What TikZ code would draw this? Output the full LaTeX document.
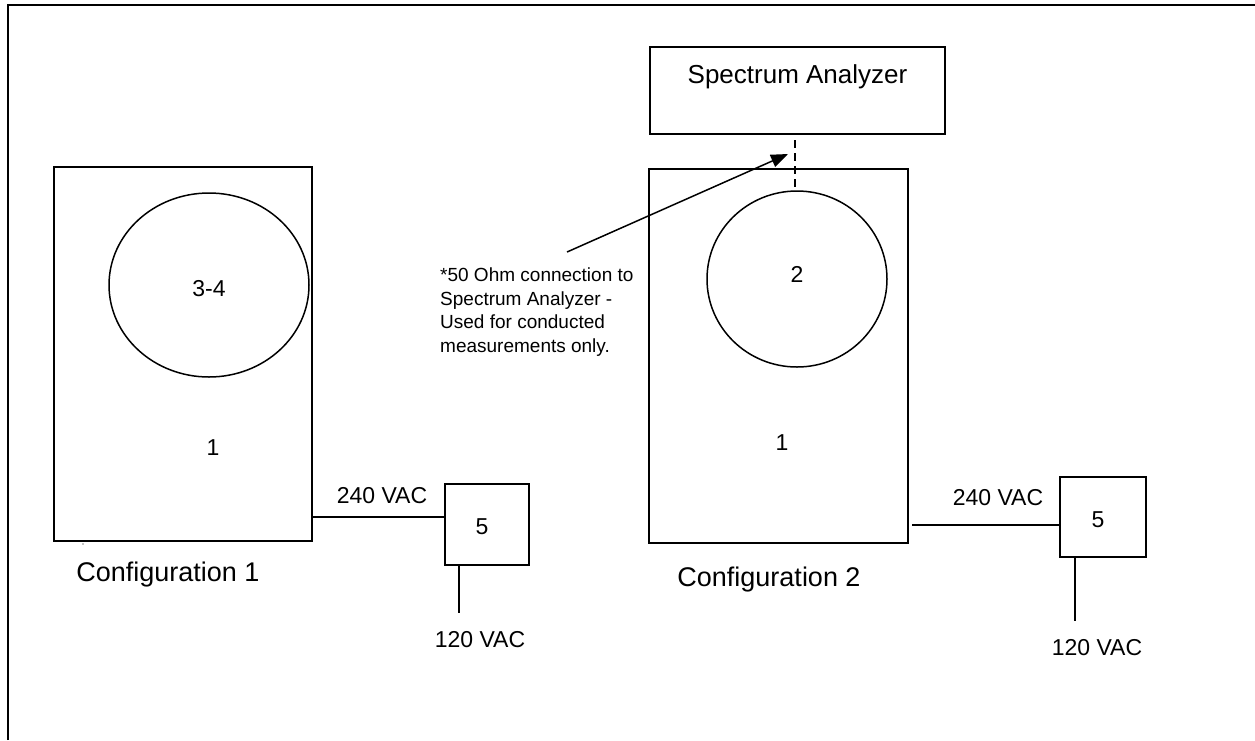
\documentclass[tikz,border=0pt]{standalone}
\usepackage{fontspec}
\setmainfont{Liberation Sans}
\usetikzlibrary{arrows.meta,shapes.geometric}
\tikzset{
  unitbox/.style={draw, line width=1.8pt, inner sep=0pt, rectangle},
  disc/.style={draw, line width=1.5pt, ellipse, inner sep=0pt},
  wire/.style={line width=1.5pt},
  lbl/.style={inner sep=0pt, anchor=base, font=\fontsize{23}{27}\selectfont},
  biglbl/.style={inner sep=0pt, anchor=base, font=\fontsize{27}{32}\selectfont},
  notelbl/.style={inner sep=0pt, anchor=north west, align=left, font=\fontsize{19}{23.5}\selectfont},
}
\begin{document}
\begin{tikzpicture}[x=1pt,y=-1pt]
\useasboundingbox (0,0) rectangle (1255,740);
% frame
\draw[line width=2.2pt] (8,740) -- (8,5) -- (1255,5);

% ---------- Configuration 1 ----------
\node[unitbox, minimum width=258pt, minimum height=374pt] (unitA) at (183,354) {};
\node[disc, minimum width=200pt, minimum height=184pt] (discA) at (209,285) {};
\node[lbl] (discAlbl) at (209,296) {3-4};
\node[lbl] (unitAlbl) at (213,455) {1};
\node[unitbox, minimum width=84pt, minimum height=81pt] (psuA) at (487,524.5) {};
\node[lbl] (psuAlbl) at (482,534) {5};
\coordinate (tapA) at (312,517);
\draw[wire] (tapA) -- (tapA -| psuA.west);
\node[lbl] (vA240) at (382,503) {240 VAC};
\coordinate (mainsA) at (459,613);
\draw[wire] (mainsA |- psuA.south) -- (mainsA);
\node[lbl] (vA120) at (480,647) {120 VAC};
\node[biglbl] (cfgA) at (168,581) {Configuration 1};
\fill (83,544) circle (0.7pt);

% ---------- Configuration 2 ----------
\node[unitbox, minimum width=295pt, minimum height=87pt] (specAn) at (797.5,90.5) {};
\node[inner sep=0pt, anchor=base, font=\fontsize{26}{31}\selectfont] (specLbl) at (797.5,83) {Spectrum Analyzer};
\node[unitbox, minimum width=259pt, minimum height=374pt] (unitB) at (778.5,356) {};
\node[disc, minimum width=180pt, minimum height=176pt] (discB) at (797,279) {};
\node[lbl] (discBlbl) at (797,282) {2};
\node[lbl] (unitBlbl) at (782,450) {1};
\node[unitbox, minimum width=86pt, minimum height=80pt] (psuB) at (1103,517) {};
\node[lbl] (psuBlbl) at (1098,527) {5};
\coordinate (tapB) at (912,525);
\draw[wire] (tapB) -- (tapB -| psuB.west);
\node[lbl] (vB240) at (998,505) {240 VAC};
\coordinate (mainsB) at (1075,621);
\draw[wire] (mainsB |- psuB.south) -- (mainsB);
\node[lbl] (vB120) at (1097,655) {120 VAC};
\node[biglbl] (cfgB) at (769,586) {Configuration 2};

% dashed connection
\coordinate (dashTop) at (795,140);
\draw[wire, dash pattern=on 8pt off 5pt] (dashTop) -- (dashTop |- discB.north);

% note and arrow
\node[notelbl] (note) at (440,268) {*50 Ohm connection to\\Spectrum Analyzer -\\Used for conducted\\measurements only.};
\coordinate (noteTail) at (567,252);
\coordinate (noteTip) at (788,154);
\draw[wire, -{Triangle[length=17pt,width=13pt]}] (noteTail) -- (noteTip);
\end{tikzpicture}
\end{document}
